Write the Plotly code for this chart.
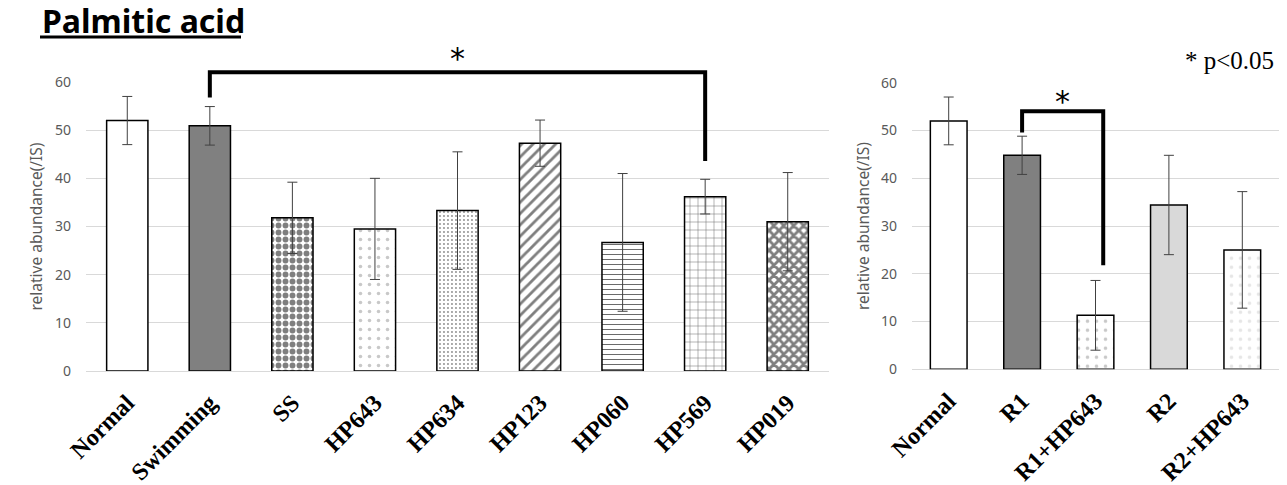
import plotly.graph_objects as go

W, H = 1287, 485

# ---- data ----
left_cats = ["Normal", "Swimming", "SS", "HP643", "HP634", "HP123", "HP060", "HP569", "HP019"]
left_vals = [52.0, 50.9, 31.8, 29.5, 33.3, 47.3, 26.7, 36.2, 31.0]
left_err = [5.0, 4.0, 7.4, 10.5, 12.2, 4.8, 14.3, 3.6, 10.2]

right_cats = ["Normal", "R1", "R1+HP643", "R2", "R2+HP643"]
right_vals = [52.0, 44.8, 11.3, 34.4, 25.0]
right_err = [5.0, 4.0, 7.3, 10.4, 12.2]

y_ticks = [0, 10, 20, 30, 40, 50, 60]

# ---- styles (fill colour, pattern shape, pattern fg, size, solidity) ----
left_styles = [
    ("white", "", None, 8, 0.3),
    ("#808080", "", None, 8, 0.3),
    ("white", ".", "#7f7f7f", 7, 0.55),
    ("white", ".", "#c8c8c8", 9, 0.12),
    ("white", ".", "#8c8c8c", 4, 0.18),
    ("white", "/", "#7f7f7f", 8, 0.35),
    ("white", "-", "#3a3a3a", 5, 0.15),
    ("white", "+", "#6a6a6a", 8, 0.12),
    ("white", "x", "#7f7f7f", 7, 0.65),
]
right_styles = [
    ("white", "", None, 8, 0.3),
    ("#808080", "", None, 8, 0.3),
    ("white", ".", "#c8c8c8", 9, 0.12),
    ("#d9d9d9", "", None, 8, 0.3),
    ("white", ".", "#e6e6e6", 9, 0.12),
]

LX = [86 / W, 829 / W]
RX = [912 / W, 1279 / W]
LY = [(H - 371) / H, (H - 82) / H]
RY = [(H - 369.3) / H, (H - 82.7) / H]

fig = go.Figure()


def add_bars(cats, vals, errs, styles, xa, ya):
    for c, v, e, st in zip(cats, vals, errs, styles):
        f, s, fg, sz, so = st
        marker = dict(color=f, line=dict(color="black", width=1.5))
        if s:
            marker["pattern"] = dict(shape=s, fgcolor=fg, bgcolor=f, size=sz, solidity=so,
                                     fillmode="replace")
        fig.add_trace(go.Bar(
            x=[c], y=[v], xaxis=xa, yaxis=ya, width=0.5, marker=marker,
            error_y=dict(type="data", array=[e], color="#404040", thickness=1, width=5),
            showlegend=False,
        ))


add_bars(left_cats, left_vals, left_err, left_styles, "x", "y")
add_bars(right_cats, right_vals, right_err, right_styles, "x2", "y2")

xcommon = dict(tickangle=-45, tickfont=dict(family="Liberation Serif", size=24, color="black", weight="bold"),
               showgrid=False, zeroline=False, showline=False, ticks="", fixedrange=True,
               automargin=False, ticklabelstandoff=12)
ycommon = dict(range=[0, 60], tickvals=y_ticks, showgrid=True, gridcolor="#d9d9d9", gridwidth=1,
               zeroline=True, zerolinecolor="#d9d9d9", zerolinewidth=1, showline=False,
               tickfont=dict(family="Noto Sans", size=14, color="#595959"), ticklabelstandoff=14,
               automargin=False)

fig.update_layout(
    width=W, height=H, margin=dict(l=0, r=0, t=0, b=0, autoexpand=False),
    paper_bgcolor="white", plot_bgcolor="white", barmode="overlay",
    xaxis=dict(domain=LX, anchor="y", categoryorder="array", categoryarray=left_cats, **xcommon),
    yaxis=dict(domain=LY, anchor="x", **ycommon),
    xaxis2=dict(domain=RX, anchor="y2", categoryorder="array", categoryarray=right_cats, **xcommon),
    yaxis2=dict(domain=RY, anchor="x2", **ycommon),
)


def px_x(dom, n, i):
    return dom[0] + (i + 0.5) / n * (dom[1] - dom[0])


def px_y(dom, v):
    return dom[0] + v / 60 * (dom[1] - dom[0])


shapes = []
lw = 4
# left bracket Swimming -> HP569
xa = px_x(LX, len(left_cats), 1)
xb = px_x(LX, len(left_cats), 7)
ytop = px_y(LY, 62.0)
shapes.append(dict(type="path", xref="paper", yref="paper",
                   path=f"M {xa},{px_y(LY, 56.8)} L {xa},{ytop} L {xb},{ytop} L {xb},{px_y(LY, 43.6)}",
                   line=dict(color="black", width=lw)))
# right bracket R1 -> R1+HP643
xa2 = px_x(RX, len(right_cats), 1)
xb2 = px_x(RX, len(right_cats), 2) + 0.006
ytop2 = px_y(RY, 54.0)
shapes.append(dict(type="path", xref="paper", yref="paper",
                   path=f"M {xa2},{px_y(RY, 49.6)} L {xa2},{ytop2} L {xb2},{ytop2} L {xb2},{px_y(RY, 21.8)}",
                   line=dict(color="black", width=lw)))
# title underline
shapes.append(dict(type="line", xref="paper", yref="paper", x0=40 / W, x1=241 / W,
                   y0=(H - 37) / H, y1=(H - 37) / H, line=dict(color="black", width=3)))
fig.update_layout(shapes=shapes)

ann = [
    dict(text="<b>Palmitic acid</b>", x=40 / W, y=(H - 21) / H, xanchor="left", yanchor="middle",
         font=dict(family="Noto Sans", size=32, color="black")),
    dict(text="*", x=(xa + xb) / 2, y=(H - 58) / H, xanchor="center", yanchor="middle",
         font=dict(family="DejaVu Sans", size=30, color="black")),
    dict(text="*", x=(xa2 + xb2) / 2, y=(H - 101) / H, xanchor="center", yanchor="middle",
         font=dict(family="DejaVu Sans", size=30, color="black")),
    dict(text="* p<0.05", x=1276 / W, y=(H - 60) / H, xanchor="right", yanchor="middle",
         font=dict(family="Liberation Serif", size=25, color="black")),
    dict(text="relative abundance(/IS)", x=35 / W, y=(LY[0] + LY[1]) / 2, textangle=-90,
         xanchor="center", yanchor="middle", font=dict(family="Noto Sans", size=15.5, color="#595959")),
    dict(text="relative abundance(/IS)", x=863 / W, y=(RY[0] + RY[1]) / 2, textangle=-90,
         xanchor="center", yanchor="middle", font=dict(family="Noto Sans", size=15.5, color="#595959")),
]
for a in ann:
    a.update(xref="paper", yref="paper", showarrow=False)
fig.update_layout(annotations=ann)

fig.write_html("out.html")
